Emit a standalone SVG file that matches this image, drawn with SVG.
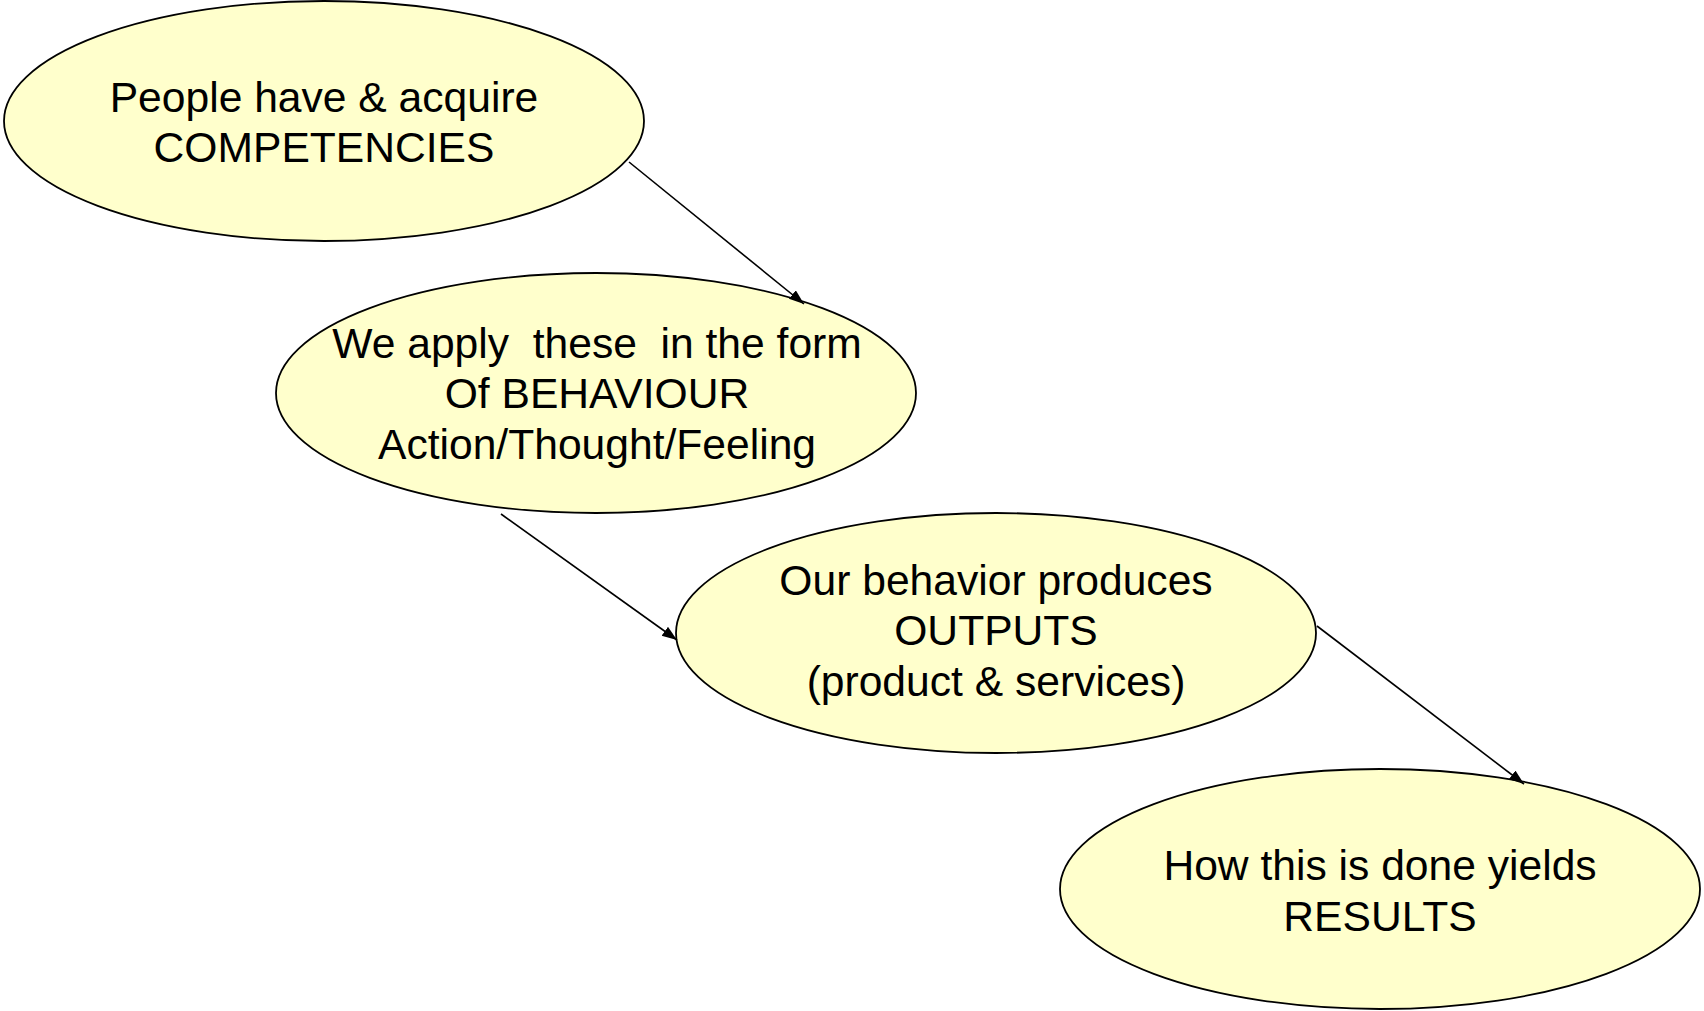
<svg xmlns="http://www.w3.org/2000/svg" width="1704" height="1011" viewBox="0 0 1704 1011">
  <style>
    .node ellipse { fill: #FFFFCC; stroke: #000; stroke-width: 1.8; }
    .node text { font-family: "Liberation Sans", Arial, sans-serif; font-size: 42.6px; fill: #000; text-anchor: middle; white-space: pre; }
    .edge { stroke: #000; stroke-width: 1.6; fill: none; marker-end: url(#arrow); }
  </style>
  <defs>
    <marker id="arrow" markerUnits="userSpaceOnUse" markerWidth="16" markerHeight="12" refX="15" refY="5.5" orient="auto">
      <path d="M0,0 L15,5.5 L0,11 z" fill="#000"/>
    </marker>
  </defs>
  <rect width="1704" height="1011" fill="#fff"/>

  <g id="competencies" class="node">
    <ellipse cx="324" cy="121" rx="320" ry="120"/>
    <text x="324" y="112">People have &amp; acquire</text>
    <text x="324" y="162">COMPETENCIES</text>
  </g>

  <g id="behaviour" class="node">
    <ellipse cx="596" cy="393" rx="320" ry="120"/>
    <text x="597" y="358" xml:space="preserve">We apply  these  in the form</text>
    <text x="597" y="408">Of BEHAVIOUR</text>
    <text x="597" y="459">Action/Thought/Feeling</text>
  </g>

  <g id="outputs" class="node">
    <ellipse cx="996" cy="633" rx="320" ry="120"/>
    <text x="996" y="595">Our behavior produces</text>
    <text x="996" y="645">OUTPUTS</text>
    <text x="996" y="696">(product &amp; services)</text>
  </g>

  <g id="results" class="node">
    <ellipse cx="1380" cy="889" rx="320" ry="120"/>
    <text x="1380" y="880">How this is done yields</text>
    <text x="1380" y="931">RESULTS</text>
  </g>

  <g id="connectors">
    <line class="edge" x1="629" y1="162" x2="804" y2="304"/>
    <line class="edge" x1="501" y1="514" x2="677" y2="640"/>
    <line class="edge" x1="1317" y1="626" x2="1524" y2="784"/>
  </g>
</svg>
